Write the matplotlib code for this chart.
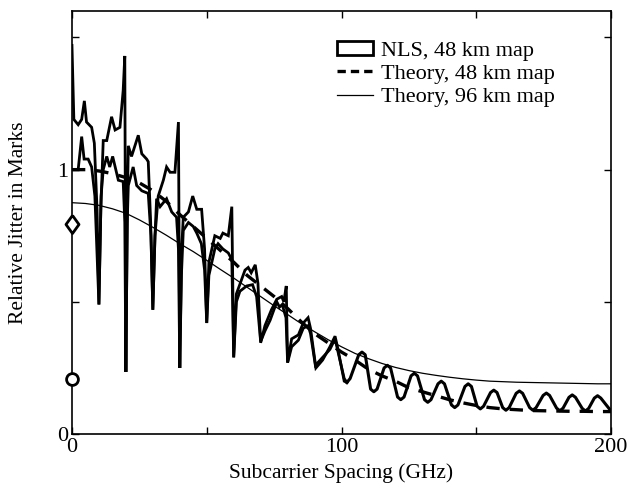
import matplotlib
matplotlib.use('Agg')
import matplotlib.pyplot as plt
from matplotlib.patches import Rectangle
from matplotlib.lines import Line2D

plt.rcParams['font.family'] = 'Liberation Serif'

# NLS simulation, 48 km map: two traces below 100 GHz, one shared trace above
nls_upper_x = [0, 0.7, 2.3, 3.6, 4.6, 5.4, 7.3, 8.3, 9.3, 10, 10.7, 11.6, 12.9, 14.7, 16, 17.8, 19, 19.6,
               20, 20.6, 20.9, 22.1, 24.6, 25.9, 27.7, 28.3, 29.2, 30, 30.8, 32, 33.9, 35.1, 36.4, 38.2, 39.5,
               40, 40.7, 41.3, 43.2, 44.8, 46.3, 48.1, 49.2, 50, 50.8, 53, 55, 56, 58, 59.3,
               60, 61, 64.2, 65.4, 66.5, 68, 69, 70, 71.6, 74, 76, 77.8, 78.6, 79.5,
               80, 81.5, 84, 85.8, 87.6, 88.5, 90.5, 93, 95.7, 97.6, 98.5, 101, 102]
nls_upper_y = [1.47, 1.19, 1.17, 1.19, 1.26, 1.18, 1.16, 1.10, 0.85, 0.49, 0.85, 1.11, 1.11, 1.20, 1.15, 1.16, 1.30, 1.43,
               0.235, 0.90, 1.09, 1.05, 1.13, 1.06, 1.04, 1.03, 0.80, 0.47, 0.75, 0.90, 0.96, 1.01, 0.99, 0.99, 1.18,
               0.25, 0.70, 0.82, 0.84, 0.90, 0.85, 0.85, 0.70, 0.42, 0.65, 0.75, 0.74, 0.76, 0.75, 0.86,
               0.29, 0.53, 0.62, 0.63, 0.61, 0.64, 0.57, 0.345, 0.41, 0.47, 0.51, 0.52, 0.50, 0.56,
               0.27, 0.36, 0.375, 0.42, 0.44, 0.40, 0.25, 0.28, 0.33, 0.37, 0.33, 0.20, 0.195]

nls_lower_x = [0, 2.3, 3.6, 4.5, 6, 7.3, 8.5, 10, 10.8, 11.6, 12.9, 14, 15.1, 17.2, 19, 19.6,
               20, 20.5, 20.9, 22.7, 24, 25.9, 28.3, 29.3, 30, 30.8, 31.4, 32.7, 35.1, 37, 38.8, 39.5,
               40, 40.6, 41.3, 43.2, 45, 46.3, 48, 49.2, 50, 50.8, 53, 54.2, 56, 58, 59.3,
               60, 61, 62.3, 64.8, 67, 68.5, 70, 71.6, 73.5, 76, 77, 78, 79.4,
               80, 81.5, 84, 85.8, 87.6, 88.5, 90.3, 93, 95.7, 97.6, 98.5, 101, 102]
nls_lower_y = [1.0, 1.0, 1.125, 1.04, 1.04, 1.01, 0.90, 0.49, 0.90, 1.0, 1.05, 1.01, 1.05, 0.96, 0.955, 0.80,
               0.235, 0.80, 0.94, 1.01, 0.94, 0.92, 0.91, 0.75, 0.47, 0.75, 0.89, 0.86, 0.89, 0.84, 0.82, 0.70,
               0.25, 0.60, 0.77, 0.80, 0.785, 0.76, 0.72, 0.62, 0.42, 0.60, 0.70, 0.72, 0.70, 0.685, 0.66,
               0.29, 0.50, 0.54, 0.56, 0.565, 0.52, 0.35, 0.39, 0.43, 0.50, 0.48, 0.49, 0.44,
               0.27, 0.33, 0.355, 0.40, 0.41, 0.38, 0.26, 0.29, 0.32, 0.36, 0.32, 0.21, 0.195]

nls_tail_x = [102, 103.2, 106.4, 107.6, 108.8, 110.8, 112, 113.2, 115.8, 117, 118.2, 120.8, 122, 123.2,
              125.8, 127, 128.2, 130.8, 132, 133.2, 135.8, 137, 138.2, 140.8, 142, 143.2, 145.8, 147, 148.2,
              150.3, 151.5, 152.7, 155.3, 156.5, 157.7, 159.8, 161, 162.2, 164.8, 166, 167.2, 169.8, 171, 172.2,
              174.8, 176, 177.2, 179.8, 181, 182.2, 184.4, 185.6, 186.8, 189.3, 190.5, 191.7, 193.8, 195, 196.2, 200]
nls_tail_y = [0.195, 0.21, 0.30, 0.31, 0.30, 0.17, 0.16, 0.17, 0.25, 0.26, 0.25, 0.14, 0.13, 0.14,
              0.22, 0.23, 0.22, 0.13, 0.12, 0.13, 0.19, 0.20, 0.19, 0.11, 0.10, 0.11, 0.18, 0.19, 0.18,
              0.105, 0.095, 0.105, 0.157, 0.166, 0.157, 0.10, 0.09, 0.10, 0.154, 0.163, 0.154, 0.10, 0.09, 0.10,
              0.146, 0.155, 0.146, 0.098, 0.088, 0.098, 0.139, 0.148, 0.139, 0.097, 0.087, 0.097, 0.136, 0.145, 0.136, 0.087]

# theory curves
theory_x = [0, 5, 10, 15, 20, 25, 30, 35, 40, 45, 50, 55, 60, 65, 70, 75, 80, 85, 90, 95, 100,
            105, 110, 115, 120, 125, 130, 135, 140, 145, 150, 155, 160, 165, 170, 175, 180, 185, 190, 195, 200]
theory_48 = [1.0, 1.0, 0.995, 0.985, 0.97, 0.95, 0.92, 0.88, 0.83, 0.785, 0.74, 0.695, 0.65, 0.60, 0.56,
             0.52, 0.475, 0.425, 0.38, 0.345, 0.31, 0.28, 0.245, 0.22, 0.20, 0.175, 0.16, 0.145, 0.13, 0.118,
             0.108, 0.10, 0.095, 0.092, 0.089, 0.088, 0.087, 0.086, 0.086, 0.085, 0.085]
theory_96 = [0.875, 0.872, 0.865, 0.852, 0.835, 0.81, 0.782, 0.752, 0.72, 0.69, 0.657, 0.623, 0.59, 0.555,
             0.52, 0.485, 0.452, 0.418, 0.387, 0.357, 0.33, 0.305, 0.285, 0.267, 0.252, 0.24, 0.23, 0.222,
             0.215, 0.209, 0.204, 0.20, 0.198, 0.196, 0.195, 0.194, 0.193, 0.192, 0.191, 0.19, 0.19]

# single-point markers at zero spacing
diamond_pt = (0, 0.795)
circle_pt = (0, 0.21)

fig = plt.figure(figsize=(6.28, 4.91), dpi=100)
ax = fig.add_axes([0.1146, 0.116, 0.8584, 0.8616])

ax.plot(nls_upper_x, nls_upper_y, color='black', lw=2.0, solid_joinstyle='miter')
ax.plot(nls_lower_x, nls_lower_y, color='black', lw=2.0, solid_joinstyle='miter')
ax.plot(nls_tail_x, nls_tail_y, color='black', lw=2.2)
ax.plot(theory_x, theory_48, color='black', lw=2.4, dashes=(4, 3))
ax.plot(theory_x, theory_96, color='black', lw=0.9)
tall_diamond = [(0, 1), (0.72, 0), (0, -1), (-0.72, 0), (0, 1)]
ax.plot(*diamond_pt, marker=tall_diamond, ms=13, mfc='white', mec='black', mew=2, clip_on=False, zorder=5)
ax.plot(*circle_pt, marker='o', ms=8.5, mfc='white', mec='black', mew=2, clip_on=False, zorder=5)

ax.set_xlim(0, 200)
ax.set_ylim(0, 1.6)
ax.set_xticks([0, 50, 100, 150, 200])
ax.set_xticklabels(['0', '', '100', '', '200'])
ax.set_yticks([0, 0.5, 1, 1.5])
ax.set_yticklabels(['0', '', '1', ''])
ax.tick_params(direction='in', top=True, right=True, length=5, width=1, labelsize=16, pad=3)
for s in ax.spines.values():
    s.set_linewidth(1.2)

ax.set_xlabel('Subcarrier Spacing (GHz)', fontsize=15.5, labelpad=4)
ax.set_ylabel('Relative Jitter in Marks', fontsize=15.5, labelpad=21)

handles = [Rectangle((0, 0), 1, 1, facecolor='white', edgecolor='black', lw=2),
           Line2D([], [], color='black', lw=2.4, dashes=(2.5, 1.5)),
           Line2D([], [], color='black', lw=0.9)]
labels = ['NLS, 48 km map', 'Theory, 48 km map', 'Theory, 96 km map']
ax.legend(handles, labels, loc='upper left', bbox_to_anchor=(0.492, 0.93), frameon=False,
          fontsize=16, handlelength=1.6, handleheight=0.6, handletextpad=0.35, labelspacing=0.15,
          borderaxespad=0, borderpad=0)

fig.savefig('out.png', dpi=100)
